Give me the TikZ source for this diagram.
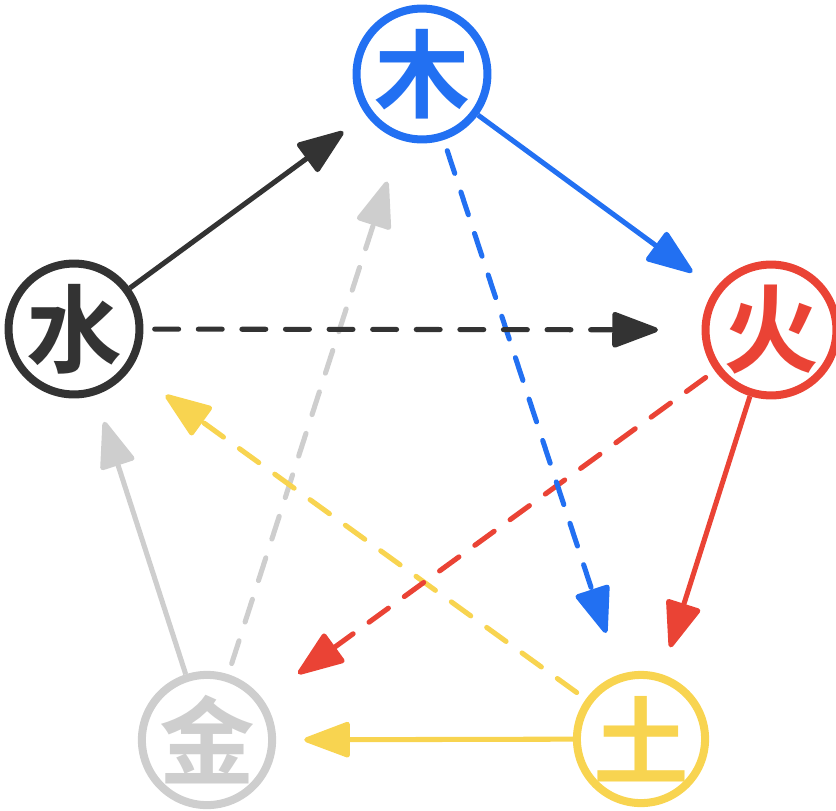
\documentclass[tikz,border=0pt]{standalone}
\usepackage{fontspec}
\usepackage{xcolor}
\usepackage{tikz}
\usetikzlibrary{arrows.meta}
\newfontfamily\hanzi{Noto Sans CJK SC Bold}
\definecolor{wood}{RGB}{34,112,242}
\definecolor{fire}{RGB}{234,67,53}
\definecolor{earth}{RGB}{248,212,80}
\definecolor{metal}{RGB}{206,206,206}
\definecolor{water}{RGB}{51,51,51}
\begin{document}
\begin{tikzpicture}[x=0.025cm, y=-0.025cm,
  elem/.style={circle, draw=#1, text=#1, line width=5.7pt, minimum size=124*0.711pt, inner sep=0pt, font=\hanzi\fontsize{68}{68}\selectfont},
  gen/.style={draw=#1, line width=3.6pt, -{Triangle[length=36pt, width=26pt, round]}, shorten >=20pt},
  ctl/.style={gen=#1, dash pattern=on 17pt off 14pt, line cap=round, shorten <=8pt, shorten >=31pt}]
\useasboundingbox (0,0) rectangle (836,810);
\node[elem=wood] (mu) at (422,74) {木};
\node[elem=fire] (huo) at (771,330) {火};
\node[elem=earth] (tu) at (641,739) {土};
\node[elem=metal] (jin) at (207,740) {金};
\node[elem=water] (shui) at (74,329) {水};
% controlling cycle
\draw[ctl=metal] (jin) -- (mu);
\draw[ctl=earth] (tu) -- (shui);
\draw[ctl=fire] (huo) -- (jin);
\draw[ctl=wood] (mu) -- (tu);
\draw[ctl=water] (shui) -- (huo);
% generating cycle
\draw[gen=water] (shui) -- (mu);
\draw[gen=wood] (mu) -- (huo);
\draw[gen=fire] (huo) -- (tu);
\draw[gen=earth] (tu) -- (jin);
\draw[gen=metal] (jin) -- (shui);
\end{tikzpicture}
\end{document}
